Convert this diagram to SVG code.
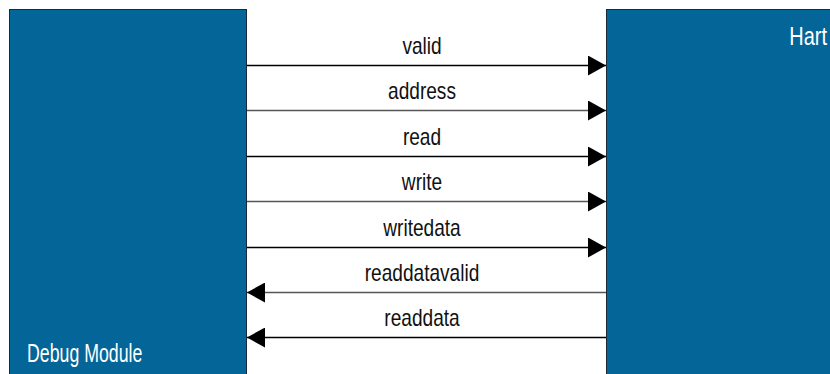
<svg xmlns="http://www.w3.org/2000/svg" width="830" height="374" viewBox="0 0 830 374">
  <defs>
    <style>
      .block { fill: #046698; stroke: #1a2a36; stroke-width: 1; }
      .blabel { fill: #ffffff; font-family: "Liberation Sans", Arial, sans-serif; font-size: 25px; }
      .sig { fill: #111111; font-family: "Liberation Sans", Arial, sans-serif; font-size: 23px; text-anchor: middle; }
      .wire { stroke: #000000; stroke-width: 1.3; fill: none; }
      .wire.grey { stroke: #555555; }
    </style>
    <marker id="tip" viewBox="0 0 18 20" refX="18" refY="10" markerWidth="18" markerHeight="20" markerUnits="userSpaceOnUse" orient="auto">
      <path d="M0,0 L18,10 L0,20 Z" fill="#000000"/>
    </marker>
  </defs>
  <rect width="830" height="374" fill="#ffffff"/>

  <g id="debug-module">
    <rect class="block" x="9.5" y="9.5" width="237" height="380"/>
    <text class="blabel" transform="translate(27,362) scale(0.71,1)">Debug Module</text>
  </g>

  <g id="hart">
    <rect class="block" x="606.5" y="9.5" width="240" height="380"/>
    <text class="blabel" transform="translate(827,45) scale(0.8,1)" text-anchor="end">Hart</text>
  </g>

  <g id="connectors">
    <line class="wire" x1="247" y1="65.5" x2="606" y2="65.5" marker-end="url(#tip)"/>
    <line class="wire grey" x1="247" y1="110.5" x2="606" y2="110.5" marker-end="url(#tip)"/>
    <line class="wire" x1="247" y1="156.5" x2="606" y2="156.5" marker-end="url(#tip)"/>
    <line class="wire grey" x1="247" y1="201.5" x2="606" y2="201.5" marker-end="url(#tip)"/>
    <line class="wire" x1="247" y1="247.5" x2="606" y2="247.5" marker-end="url(#tip)"/>
    <line class="wire grey" x1="606" y1="292.5" x2="247" y2="292.5" marker-end="url(#tip)"/>
    <line class="wire" x1="606" y1="337.5" x2="247" y2="337.5" marker-end="url(#tip)"/>
  </g>

  <g id="signal-labels">
    <text class="sig" transform="translate(422,54) scale(0.83,1)">valid</text>
    <text class="sig" transform="translate(422,99) scale(0.83,1)">address</text>
    <text class="sig" transform="translate(422,145) scale(0.83,1)">read</text>
    <text class="sig" transform="translate(422,190) scale(0.83,1)">write</text>
    <text class="sig" transform="translate(422,236) scale(0.83,1)">writedata</text>
    <text class="sig" transform="translate(422,281) scale(0.83,1)">readdatavalid</text>
    <text class="sig" transform="translate(422,326) scale(0.83,1)">readdata</text>
  </g>
</svg>
